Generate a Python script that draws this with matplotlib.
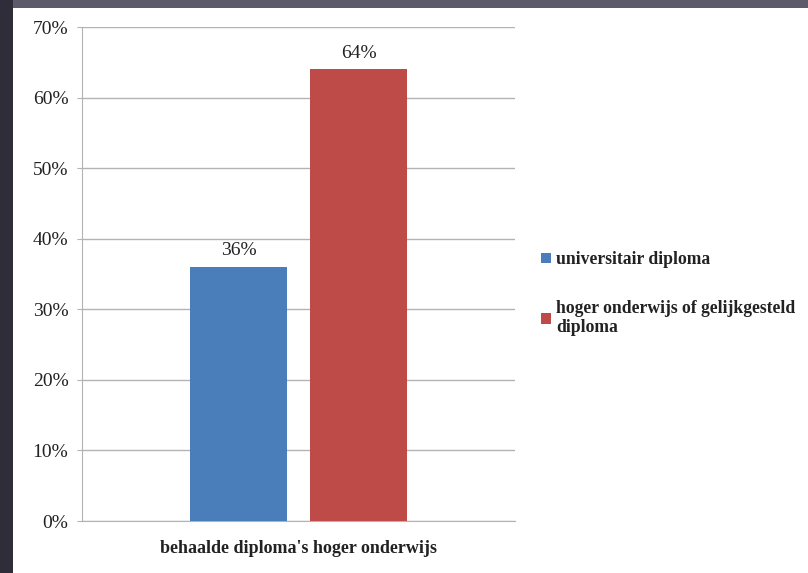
import matplotlib
matplotlib.use("Agg")
import matplotlib.pyplot as plt
from matplotlib.patches import Rectangle
from matplotlib.ticker import FuncFormatter

category = "behaalde diploma's hoger onderwijs"
series_names = ["universitair diploma", "hoger onderwijs of gelijkgesteld\ndiploma"]
values = [36, 64]
colors = ["#4a7ebb", "#be4b48"]
yticks = [0, 10, 20, 30, 40, 50, 60, 70]

plt.rcParams['font.family'] = ['Liberation Serif', 'DejaVu Serif']

W, H = 808, 573
fig = plt.figure(figsize=(W / 100, H / 100), dpi=100)
fig.patch.set_facecolor("white")

# dark frame at top and left
fig.patches.append(Rectangle((0, 1 - 8 / H), 1, 8 / H, transform=fig.transFigure,
                             facecolor="#5d5a6a", edgecolor="none", zorder=0))
fig.patches.append(Rectangle((0, 0), 13 / W, 1, transform=fig.transFigure,
                             facecolor="#302d3a", edgecolor="none", zorder=0))

ax_left, ax_right = 82 / W, 515 / W
ax_top, ax_bot = 1 - 27 / H, 1 - 521 / H
ax = fig.add_axes([ax_left, ax_bot, ax_right - ax_left, ax_top - ax_bot])

offsets = [-0.1386, 0.1386]
width = 0.224
for v, off, c, name in zip(values, offsets, colors, series_names):
    ax.bar(off, v, width=width, color=c, label=name, zorder=3)
    ax.text(off, v + 1.1, f"{v}%", ha="center", va="bottom", fontsize=14, color="#222222")

ax.set_xlim(-0.5, 0.5)
ax.set_ylim(0, 70)
ax.set_yticks(yticks)
ax.yaxis.set_major_formatter(FuncFormatter(lambda y, p: f"{int(y)}%"))
ax.set_xticks([0])
ax.set_xticklabels([category])
ax.grid(axis="y", color="#b3b3b3", linewidth=1, zorder=0)
for s in ["top", "right"]:
    ax.spines[s].set_visible(False)
ax.spines["left"].set_color("#b3b3b3")
ax.spines["bottom"].set_color("#b3b3b3")
ax.tick_params(axis="y", length=3.6, color="#b3b3b3", labelsize=14, labelcolor="#222222", pad=6.2)
ax.tick_params(axis="x", length=0, labelsize=13, labelcolor="#222222", pad=14)
for lab in ax.get_xticklabels():
    lab.set_fontweight("bold")

leg = fig.legend(loc="upper left", bbox_to_anchor=(534 / W, 1 - 244 / H), frameon=False,
                 fontsize=12.7, handlelength=0.55, handleheight=0.55, handletextpad=0.3,
                 labelspacing=1.8, borderaxespad=0)
for t in leg.get_texts():
    t.set_color("#222222")
    t.set_fontweight("bold")

fig.savefig("out.png", dpi=100)
